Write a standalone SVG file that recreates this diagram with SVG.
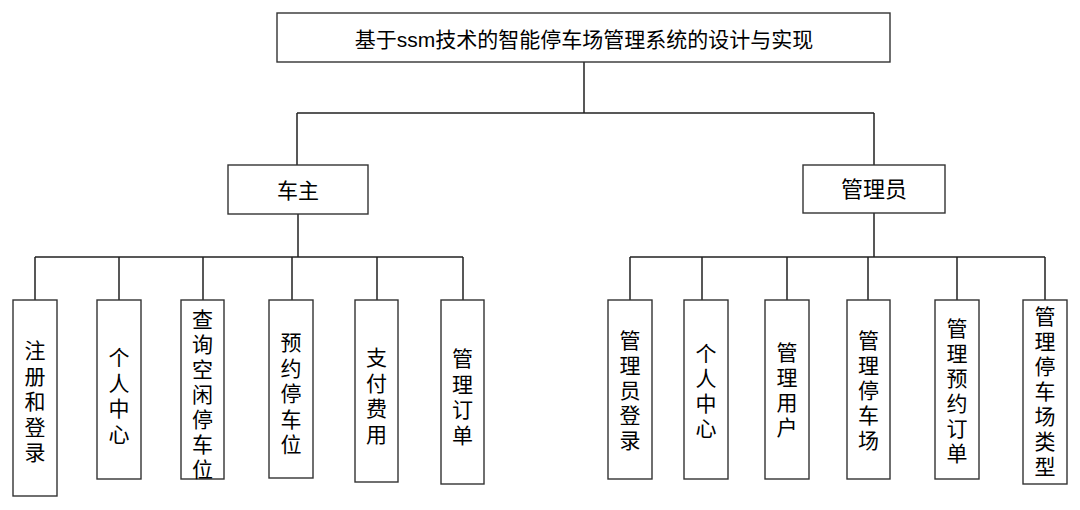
<svg xmlns="http://www.w3.org/2000/svg" width="1080" height="510" viewBox="0 0 1080 510">
<style>
.box{fill:#fff;stroke:#333;stroke-width:1.4}
.ln{stroke:#222;stroke-width:1.5;fill:none}
text{font-family:"Liberation Sans","Noto Sans CJK SC",sans-serif;fill:#000;text-anchor:middle;dominant-baseline:central}
.v{font-size:21px}
</style>
<rect width="1080" height="510" fill="#fff"/>
<g id="connectors">
<path class="ln" d="M584 62V113M297 113H874M297 113V165M874 113V165"/>
<path class="ln" d="M298 214V257M35 257H463M35 257V300M119 257V300M203 257V300M292 257V300M377 257V300M463 257V300"/>
<path class="ln" d="M874 213V257M630 257H1045M630 257V300M702 257V300M787 257V300M868 257V300M957 257V300M1045 257V300"/>
</g>
<g id="root"><rect class="box" x="277" y="13" width="613" height="49"/><text x="584" y="39" font-size="21">基于ssm技术的智能停车场管理系统的设计与实现</text></g>
<g id="owner"><rect class="box" x="228" y="165" width="140" height="49"/><text x="298" y="190" font-size="21">车主</text></g>
<g id="admin"><rect class="box" x="803" y="165" width="142" height="48"/><text x="874" y="189" font-size="22">管理员</text></g>
<g id="o1"><rect class="box" x="13" y="300" width="44" height="196"/><text class="v" x="35" y="350"><tspan x="35">注</tspan><tspan x="35" dy="25.5">册</tspan><tspan x="35" dy="25.5">和</tspan><tspan x="35" dy="25.5">登</tspan><tspan x="35" dy="25.5">录</tspan></text></g>
<g id="o2"><rect class="box" x="97" y="300" width="44" height="179"/><text class="v" x="119" y="357"><tspan x="119">个</tspan><tspan x="119" dy="25.5">人</tspan><tspan x="119" dy="25.5">中</tspan><tspan x="119" dy="25.5">心</tspan></text></g>
<g id="o3"><rect class="box" x="181" y="300" width="43" height="179"/><text class="v" x="202.5" y="319"><tspan x="202.5">查</tspan><tspan x="202.5" dy="25">询</tspan><tspan x="202.5" dy="25">空</tspan><tspan x="202.5" dy="25">闲</tspan><tspan x="202.5" dy="25">停</tspan><tspan x="202.5" dy="25">车</tspan><tspan x="202.5" dy="25">位</tspan></text></g>
<g id="o4"><rect class="box" x="269" y="300" width="44" height="178"/><text class="v" x="291" y="342"><tspan x="291">预</tspan><tspan x="291" dy="25.5">约</tspan><tspan x="291" dy="25.5">停</tspan><tspan x="291" dy="25.5">车</tspan><tspan x="291" dy="25.5">位</tspan></text></g>
<g id="o5"><rect class="box" x="355" y="300" width="43" height="182"/><text class="v" x="376.5" y="357"><tspan x="376.5">支</tspan><tspan x="376.5" dy="25.5">付</tspan><tspan x="376.5" dy="25.5">费</tspan><tspan x="376.5" dy="25.5">用</tspan></text></g>
<g id="o6"><rect class="box" x="441" y="300" width="43" height="184"/><text class="v" x="462.5" y="358"><tspan x="462.5">管</tspan><tspan x="462.5" dy="25.5">理</tspan><tspan x="462.5" dy="25.5">订</tspan><tspan x="462.5" dy="25.5">单</tspan></text></g>
<g id="a1"><rect class="box" x="608" y="300" width="44" height="179"/><text class="v" x="630" y="340"><tspan x="630">管</tspan><tspan x="630" dy="25">理</tspan><tspan x="630" dy="25">员</tspan><tspan x="630" dy="25">登</tspan><tspan x="630" dy="25">录</tspan></text></g>
<g id="a2"><rect class="box" x="684" y="300" width="44" height="179"/><text class="v" x="706" y="352.5"><tspan x="706">个</tspan><tspan x="706" dy="25">人</tspan><tspan x="706" dy="25">中</tspan><tspan x="706" dy="25">心</tspan></text></g>
<g id="a3"><rect class="box" x="765" y="300" width="44" height="179"/><text class="v" x="787" y="352"><tspan x="787">管</tspan><tspan x="787" dy="25">理</tspan><tspan x="787" dy="25">用</tspan><tspan x="787" dy="25">户</tspan></text></g>
<g id="a4"><rect class="box" x="847" y="300" width="43" height="179"/><text class="v" x="868.5" y="340"><tspan x="868.5">管</tspan><tspan x="868.5" dy="25">理</tspan><tspan x="868.5" dy="25">停</tspan><tspan x="868.5" dy="25">车</tspan><tspan x="868.5" dy="25">场</tspan></text></g>
<g id="a5"><rect class="box" x="935" y="300" width="44" height="179"/><text class="v" x="957" y="327.5"><tspan x="957">管</tspan><tspan x="957" dy="25">理</tspan><tspan x="957" dy="25">预</tspan><tspan x="957" dy="25">约</tspan><tspan x="957" dy="25">订</tspan><tspan x="957" dy="25">单</tspan></text></g>
<g id="a6"><rect class="box" x="1023" y="300" width="44" height="184"/><text class="v" x="1045" y="316"><tspan x="1045">管</tspan><tspan x="1045" dy="25">理</tspan><tspan x="1045" dy="25">停</tspan><tspan x="1045" dy="25">车</tspan><tspan x="1045" dy="25">场</tspan><tspan x="1045" dy="25">类</tspan><tspan x="1045" dy="25">型</tspan></text></g>
</svg>
